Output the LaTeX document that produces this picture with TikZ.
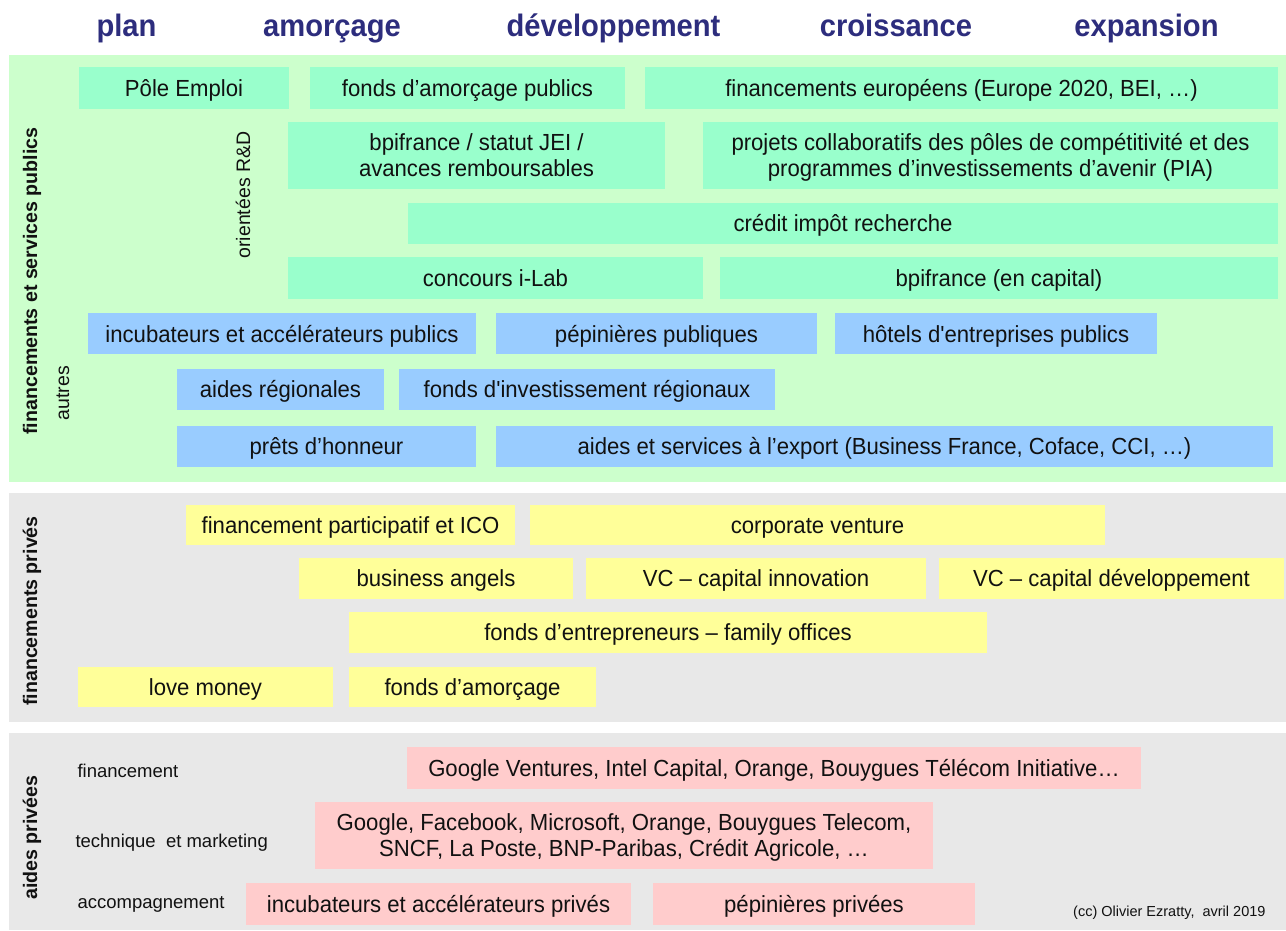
\documentclass[tikz,border=0pt]{standalone}
\usepackage{fontspec}
\setmainfont{Liberation Sans}
\newfontfamily\boxfont[FakeStretch=0.95]{Liberation Sans}
\newfontfamily\headfont[FakeStretch=0.94]{Liberation Sans}
\definecolor{navy}{RGB}{45,45,125}
\definecolor{panelgreen}{HTML}{CCFFCC}
\definecolor{panelgrey}{HTML}{E8E8E8}
\definecolor{bgreen}{HTML}{99FFCC}
\definecolor{bblue}{HTML}{99CCFF}
\definecolor{byellow}{HTML}{FFFF99}
\definecolor{bpink}{HTML}{FFCCCC}
\definecolor{ink}{HTML}{111111}
\tikzset{
  boxstyle/.style={inner sep=0pt, outer sep=0pt, draw=none, align=center, text=ink,
    font=\boxfont\fontsize{23.3}{25.7}\selectfont,
    text height=22.7pt, text depth=6pt},
  twoline/.style={text depth=31.7pt},
  header/.style={anchor=base, text=navy, font=\headfont\fontsize{31}{34}\selectfont\bfseries},
  sidelabel/.style={rotate=90, text=ink, font=\fontsize{19.6}{22}\selectfont\bfseries},
  sublabel/.style={text=ink, font=\fontsize{19.5}{22}\selectfont},
  rowlabel/.style={anchor=west, text=ink, font=\fontsize{18.5}{22}\selectfont},
}
\newcommand\twol[2]{\begin{tabular}[t]{@{}c@{}}#1\\#2\end{tabular}}
\newcommand\bx[8][]{\node[boxstyle, #1, fill=#2, minimum width={(#5-#3)*1pt}, minimum height={(#6-#4)*1pt}] (#7) at ({(#3+#5)/2},{(#4+#6)/2}) {#8};}
\begin{document}
\begin{tikzpicture}[x=1pt,y=-1pt]
\useasboundingbox (0,0) rectangle (1286,930);
\fill[white] (0,0) rectangle (1286,930);
% panels
\fill[panelgreen] (9,55) rectangle (1286,482);
\fill[panelgrey] (9,493) rectangle (1286,722);
\fill[panelgrey] (9,733) rectangle (1286,930);
% headers
\node[header] (hplan) at (126.5,36) {plan};
\node[header] (hamor) at (332,36) {amorçage};
\node[header] (hdev) at (613.5,36) {développement};
\node[header] (hcroi) at (896,36) {croissance};
\node[header] (hexp) at (1146.5,36) {expansion};
% side labels
\node[sidelabel] (lpub) at (32,281) {financements et services publics};
\node[sidelabel] (lpriv) at (32,611) {financements\ privés};
\node[sidelabel] (laides) at (32,837.5) {aides privées};
\node[sublabel, rotate=90] (lrd) at (243,195) {orientées R\&D};
\node[sublabel, rotate=90] (lautres) at (63,393) {autres};
% green boxes
\bx{bgreen}{79}{67}{289}{108.7}{pole}{Pôle Emploi}
\bx{bgreen}{310}{67}{625}{108.7}{famorp}{fonds d’amorçage publics}
\bx{bgreen}{645}{67}{1278}{108.7}{feuro}{financements européens (Europe 2020, BEI, …)}
\bx[twoline]{bgreen}{288}{122}{665}{188.7}{bpi}{\twol{bpifrance / statut JEI /}{avances remboursables}}
\bx[twoline]{bgreen}{703}{122}{1278}{188.7}{pia}{\twol{projets collaboratifs des pôles de compétitivité et des}{programmes\ d’investissements d’avenir (PIA)}}
\bx{bgreen}{408}{203}{1278}{243.7}{cir}{crédit impôt recherche}
\bx{bgreen}{288}{257}{703}{298.7}{ilab}{concours i-Lab}
\bx{bgreen}{720}{257}{1278}{298.7}{bpicap}{bpifrance (en capital)}
% blue boxes
\bx{bblue}{88}{313.3}{476}{354.3}{incpub}{incubateurs et accélérateurs publics}
\bx{bblue}{496}{313.3}{817}{354.3}{peppub}{pépinières publiques}
\bx{bblue}{835}{313.3}{1157}{354.3}{hotel}{hôtels d'entreprises publics}
\bx{bblue}{177}{369.3}{384}{409.7}{aidreg}{aides régionales}
\bx{bblue}{399}{369.3}{775}{409.7}{fondreg}{fonds d'investissement régionaux}
\bx{bblue}{177}{426}{476}{466.7}{prets}{prêts d’honneur}
\bx{bblue}{496}{426}{1273}{466.7}{export}{aides et services à l’export (Business France, Coface, CCI, …)}
% yellow boxes
\bx{byellow}{186}{505.3}{515}{545}{crowd}{financement participatif et ICO}
\bx{byellow}{530}{505.3}{1105}{545}{corpv}{corporate venture}
\bx{byellow}{299}{557.7}{573}{599.3}{angels}{business angels}
\bx{byellow}{586}{557.7}{926}{599.3}{vcinno}{VC – capital innovation}
\bx{byellow}{939}{557.7}{1284}{599.3}{vcdev}{VC – capital développement}
\bx{byellow}{349}{612}{987}{652.7}{family}{fonds d’entrepreneurs – family offices}
\bx{byellow}{78}{667.3}{333}{707.3}{love}{love money}
\bx{byellow}{349}{667.3}{596}{707.3}{famor}{fonds d’amorçage}
% pink boxes
\bx{bpink}{407}{747.3}{1141}{788.7}{gv}{Google Ventures, Intel Capital, Orange, Bouygues Télécom Initiative…}
\bx[twoline]{bpink}{315}{802}{933}{868.7}{gfb}{\twol{Google, Facebook, Microsoft, Orange, Bouygues Telecom,}{SNCF, La Poste, BNP-Paribas, Crédit Agricole, …}}
\bx{bpink}{246}{883}{631}{924.7}{incpriv}{incubateurs et accélérateurs privés}
\bx{bpink}{653}{883}{975}{924.7}{peppriv}{pépinières privées}
% row labels
\node[rowlabel] (rfin) at (74,771) {financement};
\node[rowlabel] (rtech) at (72,843) {technique\ \ et marketing};
\node[rowlabel] (racc) at (74,904) {accompagnement};
\node[anchor=east, text=ink, font=\fontsize{14.5}{17}\selectfont] (cc) at (1269,913) {(cc) Olivier Ezratty,\ \ avril 2019};
\end{tikzpicture}
\end{document}
